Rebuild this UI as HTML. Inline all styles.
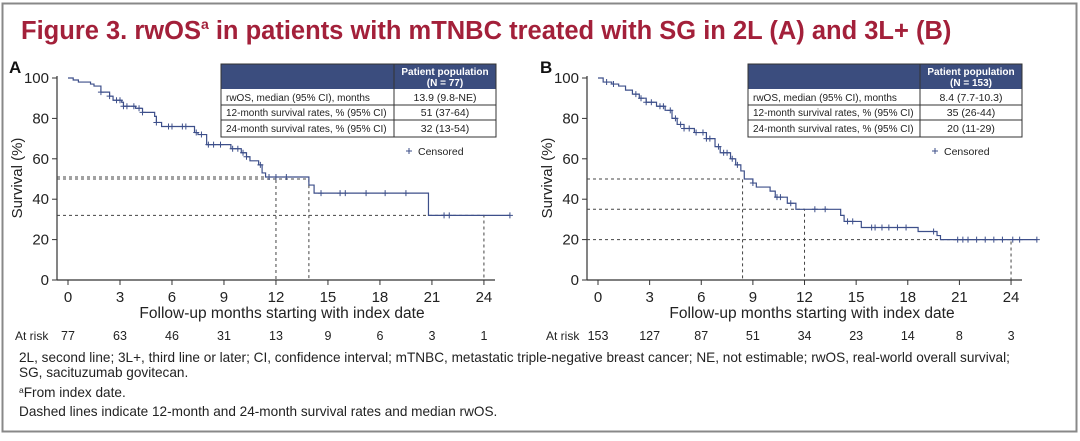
<!DOCTYPE html>
<html><head><meta charset="utf-8"><style>
body{margin:0;background:#fff;}
svg text{font-family:"Liberation Sans",Arial,sans-serif;}
</style></head><body>
<svg id="s" width="1080" height="436" xmlns="http://www.w3.org/2000/svg">
<rect x="2.5" y="3.5" width="1074" height="428" fill="#fff" stroke="#888" stroke-width="2"/>
<text x="21" y="39" font-size="25.5" font-weight="bold" fill="#a3203a">Figure 3. rwOS<tspan font-size="14" dy="-10">a</tspan><tspan dy="10"> in patients with mTNBC treated with SG in 2L (A) and 3L+ (B)</tspan></text>
<g id="g" font-size="13" fill="#222"></g>
<g font-size="13.6" fill="#222">
<text x="19" y="362">2L, second line; 3L+, third line or later; CI, confidence interval; mTNBC, metastatic triple-negative breast cancer; NE, not estimable; rwOS, real-world overall survival;</text>
<text x="19" y="377">SG, sacituzumab govitecan.</text>
<text x="19" y="397"><tspan font-size="8.5" dy="-4">a</tspan><tspan dy="4">From index date.</tspan></text>
<text x="19" y="416">Dashed lines indicate 12-month and 24-month survival rates and median rwOS.</text>
</g>
</svg>
<script>
const NS="http://www.w3.org/2000/svg",g=document.getElementById('g');
function el(t,a,txt){const e=document.createElementNS(NS,t);for(const k in a)e.setAttribute(k,a[k]);if(txt!==undefined)e.textContent=txt;g.appendChild(e);return e;}
function panel(o){
 const X=m=>o.x0+o.px*m,Y=s=>280-2.02*s;
 el('text',{x:o.lx,y:73,'font-size':17,'font-weight':'bold',fill:'#111'},o.L);
 el('line',{x1:o.ax,y1:76,x2:o.ax,y2:280,stroke:'#333','stroke-width':1.2});
 el('line',{x1:o.ax,y1:280,x2:o.xe,y2:280,stroke:'#333','stroke-width':1.2});
 for(let v=0;v<=100;v+=20){el('line',{x1:o.ax-5,y1:Y(v),x2:o.ax,y2:Y(v),stroke:'#333'});el('text',{x:o.ax-8,y:Y(v)+5,'font-size':15,'text-anchor':'end'},v);}
 for(let m=0;m<=24;m+=3){el('line',{x1:X(m),y1:280,x2:X(m),y2:285,stroke:'#333'});el('text',{x:X(m),y:302,'font-size':15,'text-anchor':'middle'},m);
  el('text',{x:X(m),y:340,'font-size':12.5,'text-anchor':'middle'},o.risk[m/3]);}
 el('text',{x:o.ax+225,y:318,'font-size':15.5,'text-anchor':'middle'},'Follow-up months starting with index date');
 el('text',{x:o.rx,y:340,'font-size':12},'At risk');
 el('text',{x:0,y:0,'font-size':15,'text-anchor':'middle',transform:`translate(${o.ax-35},178) rotate(-90)`},'Survival (%)');
 const d={stroke:'#444','stroke-width':1,'stroke-dasharray':'3,3',fill:'none'};
 o.dash.forEach(([m,s])=>{el('polyline',Object.assign({points:`${o.ax},${Y(s)} ${X(m)},${Y(s)} ${X(m)},280`},d));});
 let p=[],prev=null;o.c.forEach(([m,s])=>{if(prev!==null)p.push(X(m)+','+Y(prev));p.push(X(m)+','+Y(s));prev=s;});
 el('polyline',{points:p.join(' '),fill:'none',stroke:'#3d4f8a','stroke-width':1.2});
 const sv=m=>{let v=100;o.c.forEach(([a,s])=>{if(a<=m)v=s;});return v;};
 o.cen.forEach(m=>{const x=X(m),y=Y(sv(m));el('path',{d:`M${x-3},${y}h6M${x},${y-3}v6`,stroke:'#3d4f8a','stroke-width':1});});
 const tx=o.tx,tw=o.tw,sp=o.sp;
 el('rect',{x:tx,y:64,width:tw,height:25,fill:'#3b4d7e'});
 el('rect',{x:tx,y:64,width:tw,height:73,fill:'none',stroke:'#333','stroke-width':1});
 [105,120].forEach(y=>el('line',{x1:tx,y1:y,x2:tx+tw,y2:y,stroke:'#333'}));
 el('line',{x1:sp,y1:64,x2:sp,y2:137,stroke:'#333'});
 const cx=(sp+tx+tw)/2;
 el('text',{x:cx,y:75,'font-size':10,'font-weight':'bold',fill:'#fff','text-anchor':'middle'},'Patient population');
 el('text',{x:cx,y:86,'font-size':10,'font-weight':'bold',fill:'#fff','text-anchor':'middle'},o.N);
 const rows=['rwOS, median (95% CI), months','12-month survival rates, % (95% CI)','24-month survival rates, % (95% CI)'];
 [101,116,132].forEach((y,i)=>{el('text',{x:tx+5,y:y,'font-size':10},rows[i]);el('text',{x:cx,y:y,'font-size':10.5,'text-anchor':'middle'},o.vals[i]);});
 el('path',{d:`M${o.tx+tw-90},151h6M${o.tx+tw-87},148v6`,stroke:'#3d4f8a'});
 el('text',{x:o.tx+tw-78,y:155,'font-size':10.5},'Censored');
}
panel({L:'A',lx:9,ax:57,x0:68,px:17.33,xe:495,rx:15,risk:[77,63,46,31,13,9,6,3,1],
 dash:[[12,51],[13.9,50],[24,32]],tx:221,tw:275,sp:394,N:'(N = 77)',vals:['13.9 (9.8-NE)','51 (37-64)','32 (13-54)'],
 c:[[0,100],[0.3,99],[0.6,98],[1.3,97],[1.5,96],[1.9,93],[2.4,91],[2.6,89],[3.1,88],[3.2,86],[3.9,85],[4.3,83],[5.0,81],[5.1,78],[5.4,76],[7.3,73],[7.5,72],[8.0,67],[9.4,65],[10.0,63],[10.3,61],[10.5,59],[11.0,57],[11.2,53],[11.4,51],[13.9,47],[14.2,43],[20.8,32],[25.5,32]],
 cen:[1.9,2.4,2.8,3.0,3.2,3.4,3.8,4.1,4.3,5.1,5.8,6.0,6.6,6.8,7.4,7.7,8.1,8.4,8.8,9.5,9.8,10.1,10.3,11.1,11.6,12.0,12.6,14.6,15.7,16.0,17.2,18.3,19.5,21.7,22.0,25.5]});
panel({L:'B',lx:540,ax:587,x0:598,px:17.21,xe:1022,rx:546,risk:[153,127,87,51,34,23,14,8,3],
 dash:[[8.4,50],[12,35],[24,20]],tx:748,tw:274,sp:920,N:'(N = 153)',vals:['8.4 (7.7-10.3)','35 (26-44)','20 (11-29)'],
 c:[[0,100],[0.3,98],[0.8,97],[1.2,96],[1.6,94],[2.0,92],[2.4,90],[2.8,88],[3.4,86],[3.9,84],[4.3,80],[4.6,77],[5.0,75],[5.6,73],[6.3,70],[6.8,66],[7.1,63],[7.7,60],[8.0,57],[8.3,54],[8.5,50],[9.0,48],[9.2,46],[10.0,44],[10.3,41],[11.0,38],[11.5,35],[14.1,32],[14.3,29],[15.3,26],[18.6,24],[19.7,22],[19.9,20],[25.5,20]],
 cen:[0.5,0.9,2.2,2.5,2.8,3.1,3.6,3.8,4.2,4.5,4.8,5.0,5.3,5.7,6.1,6.3,6.5,7.0,7.3,7.5,7.8,8.1,9.0,10.4,10.6,11.2,12.6,13.2,14.5,14.8,15.9,16.1,16.5,16.9,17.4,17.9,19.5,20.9,21.2,21.5,22.0,22.5,23.0,23.5,24.1,24.5,25.5]});
</script>
</body></html>
